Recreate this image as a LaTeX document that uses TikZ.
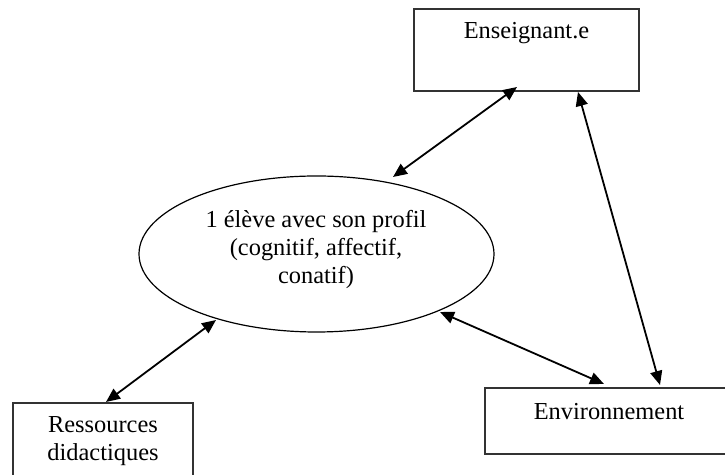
\documentclass[tikz,border=0pt]{standalone}
\usepackage{fontspec}
\setmainfont{Liberation Serif}
\usetikzlibrary{shapes.geometric,arrows.meta}
\begin{document}
\begin{tikzpicture}[x=0.5pt,y=-0.5pt,
  box/.style={draw=black!80,line width=0.6pt,rectangle,inner sep=0pt},
  lbl/.style={font=\fontsize{12.2pt}{14pt}\selectfont,align=center,inner sep=0pt},
  link/.style={line width=0.9pt,{Triangle[length=7pt,width=6pt]}-{Triangle[length=7pt,width=6pt]}}]
\useasboundingbox (0,0) rectangle (725,475);
% boxes
\node[box,minimum width=112.5pt,minimum height=41pt] (ens) at (526.5,50) {};
\node[box,minimum width=90pt,minimum height=41pt] (res) at (103,444) {};
\node[box,minimum width=122.5pt,minimum height=33pt] (env) at (607.5,421) {};
\node[draw,ellipse,line width=0.6pt,minimum width=177.5pt,minimum height=78pt,inner sep=0pt] (ell) at (316.5,254) {};
% texts
\node[lbl] (tens) at (526.5,33) {Enseignant.e};
\node[lbl] (tres) at (103,441) {Ressources\\didactiques};
\node[lbl] (tenv) at (609,412) {Environnement};
\node[lbl] (tell) at (316,250) {1 élève avec son profil\\(cognitif, affectif,\\conatif)};
% connector ends
\coordinate (e1) at (393,177);
\coordinate (n1) at (517,87);
\coordinate (e2) at (216,320);
\coordinate (r2) at (106,402);
\coordinate (e3) at (440,312);
\coordinate (v3) at (604,384);
\coordinate (n4) at (578,92);
\coordinate (v4) at (660,385);
\draw[link] (e1) -- (n1);
\draw[link] (e2) -- (r2);
\draw[link] (e3) -- (v3);
\draw[link] (n4) -- (v4);
\end{tikzpicture}
\end{document}
